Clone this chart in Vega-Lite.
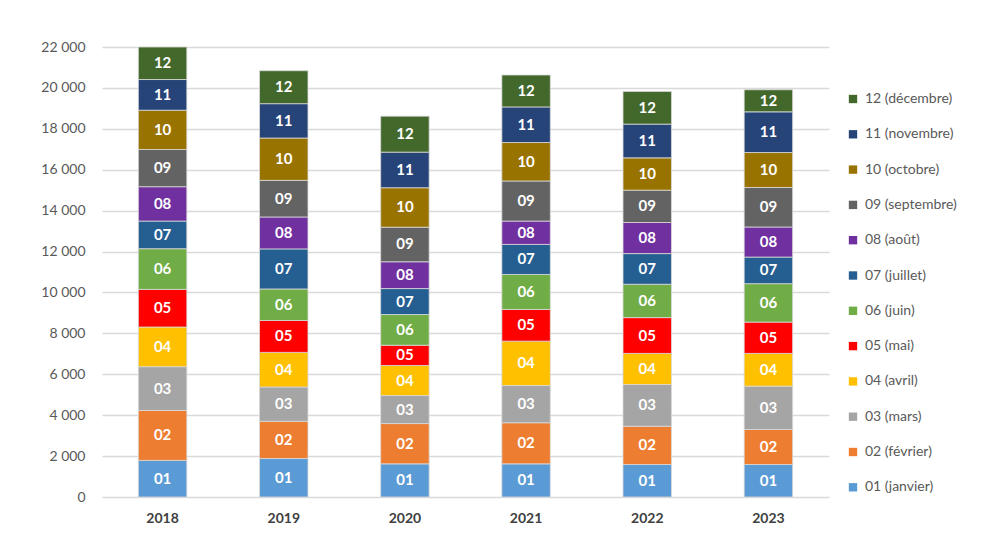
{
  "$schema": "https://vega.github.io/schema/vega-lite/v6.json",
  "autosize": "none",
  "width": 727,
  "height": 450,
  "padding": {"left": 102, "top": 47, "right": 161, "bottom": 43},
  "background": "#ffffff",
  "config": {
    "font": "Lato",
    "view": {"stroke": null}
  },
  "data": {
    "values": [
      {"year": "2018", "m": "01", "label": "01 (janvier)", "value": 1790},
      {"year": "2018", "m": "02", "label": "02 (février)", "value": 2440},
      {"year": "2018", "m": "03", "label": "03 (mars)", "value": 2140},
      {"year": "2018", "m": "04", "label": "04 (avril)", "value": 1940},
      {"year": "2018", "m": "05", "label": "05 (mai)", "value": 1840},
      {"year": "2018", "m": "06", "label": "06 (juin)", "value": 1990},
      {"year": "2018", "m": "07", "label": "07 (juillet)", "value": 1350},
      {"year": "2018", "m": "08", "label": "08 (août)", "value": 1680},
      {"year": "2018", "m": "09", "label": "09 (septembre)", "value": 1820},
      {"year": "2018", "m": "10", "label": "10 (octobre)", "value": 1920},
      {"year": "2018", "m": "11", "label": "11 (novembre)", "value": 1500},
      {"year": "2018", "m": "12", "label": "12 (décembre)", "value": 1590},
      {"year": "2019", "m": "01", "label": "01 (janvier)", "value": 1880},
      {"year": "2019", "m": "02", "label": "02 (février)", "value": 1820},
      {"year": "2019", "m": "03", "label": "03 (mars)", "value": 1680},
      {"year": "2019", "m": "04", "label": "04 (avril)", "value": 1690},
      {"year": "2019", "m": "05", "label": "05 (mai)", "value": 1560},
      {"year": "2019", "m": "06", "label": "06 (juin)", "value": 1540},
      {"year": "2019", "m": "07", "label": "07 (juillet)", "value": 1960},
      {"year": "2019", "m": "08", "label": "08 (août)", "value": 1560},
      {"year": "2019", "m": "09", "label": "09 (septembre)", "value": 1790},
      {"year": "2019", "m": "10", "label": "10 (octobre)", "value": 2070},
      {"year": "2019", "m": "11", "label": "11 (novembre)", "value": 1680},
      {"year": "2019", "m": "12", "label": "12 (décembre)", "value": 1610},
      {"year": "2020", "m": "01", "label": "01 (janvier)", "value": 1620},
      {"year": "2020", "m": "02", "label": "02 (février)", "value": 1970},
      {"year": "2020", "m": "03", "label": "03 (mars)", "value": 1370},
      {"year": "2020", "m": "04", "label": "04 (avril)", "value": 1470},
      {"year": "2020", "m": "05", "label": "05 (mai)", "value": 990},
      {"year": "2020", "m": "06", "label": "06 (juin)", "value": 1500},
      {"year": "2020", "m": "07", "label": "07 (juillet)", "value": 1270},
      {"year": "2020", "m": "08", "label": "08 (août)", "value": 1310},
      {"year": "2020", "m": "09", "label": "09 (septembre)", "value": 1690},
      {"year": "2020", "m": "10", "label": "10 (octobre)", "value": 1930},
      {"year": "2020", "m": "11", "label": "11 (novembre)", "value": 1740},
      {"year": "2020", "m": "12", "label": "12 (décembre)", "value": 1760},
      {"year": "2021", "m": "01", "label": "01 (janvier)", "value": 1620},
      {"year": "2021", "m": "02", "label": "02 (février)", "value": 2010},
      {"year": "2021", "m": "03", "label": "03 (mars)", "value": 1820},
      {"year": "2021", "m": "04", "label": "04 (avril)", "value": 2170},
      {"year": "2021", "m": "05", "label": "05 (mai)", "value": 1550},
      {"year": "2021", "m": "06", "label": "06 (juin)", "value": 1710},
      {"year": "2021", "m": "07", "label": "07 (juillet)", "value": 1470},
      {"year": "2021", "m": "08", "label": "08 (août)", "value": 1140},
      {"year": "2021", "m": "09", "label": "09 (septembre)", "value": 1960},
      {"year": "2021", "m": "10", "label": "10 (octobre)", "value": 1880},
      {"year": "2021", "m": "11", "label": "11 (novembre)", "value": 1740},
      {"year": "2021", "m": "12", "label": "12 (décembre)", "value": 1560},
      {"year": "2022", "m": "01", "label": "01 (janvier)", "value": 1590},
      {"year": "2022", "m": "02", "label": "02 (février)", "value": 1870},
      {"year": "2022", "m": "03", "label": "03 (mars)", "value": 2040},
      {"year": "2022", "m": "04", "label": "04 (avril)", "value": 1520},
      {"year": "2022", "m": "05", "label": "05 (mai)", "value": 1750},
      {"year": "2022", "m": "06", "label": "06 (juin)", "value": 1630},
      {"year": "2022", "m": "07", "label": "07 (juillet)", "value": 1500},
      {"year": "2022", "m": "08", "label": "08 (août)", "value": 1520},
      {"year": "2022", "m": "09", "label": "09 (septembre)", "value": 1580},
      {"year": "2022", "m": "10", "label": "10 (octobre)", "value": 1580},
      {"year": "2022", "m": "11", "label": "11 (novembre)", "value": 1650},
      {"year": "2022", "m": "12", "label": "12 (décembre)", "value": 1600},
      {"year": "2023", "m": "01", "label": "01 (janvier)", "value": 1590},
      {"year": "2023", "m": "02", "label": "02 (février)", "value": 1710},
      {"year": "2023", "m": "03", "label": "03 (mars)", "value": 2120},
      {"year": "2023", "m": "04", "label": "04 (avril)", "value": 1600},
      {"year": "2023", "m": "05", "label": "05 (mai)", "value": 1530},
      {"year": "2023", "m": "06", "label": "06 (juin)", "value": 1880},
      {"year": "2023", "m": "07", "label": "07 (juillet)", "value": 1300},
      {"year": "2023", "m": "08", "label": "08 (août)", "value": 1470},
      {"year": "2023", "m": "09", "label": "09 (septembre)", "value": 1930},
      {"year": "2023", "m": "10", "label": "10 (octobre)", "value": 1710},
      {"year": "2023", "m": "11", "label": "11 (novembre)", "value": 1990},
      {"year": "2023", "m": "12", "label": "12 (décembre)", "value": 1080}
    ]
  },
  "encoding": {
    "x": {
      "field": "year",
      "type": "nominal",
      "scale": {"paddingInner": 0.6, "paddingOuter": 0.3},
      "axis": {
        "title": null,
        "labelAngle": 0,
        "ticks": false,
        "domain": false,
        "labelFont": "Lato",
        "labelFontSize": 14,
        "labelFontWeight": "bold",
        "labelColor": "#404040",
        "labelPadding": 14
      }
    }
  },
  "layer": [
    {
      "mark": {"type": "bar", "stroke": "#d9d9d9", "strokeWidth": 0.8},
      "encoding": {
        "y": {
          "field": "value",
          "type": "quantitative",
          "stack": "zero",
          "scale": {"domain": [0, 22000], "nice": false},
          "axis": {
            "title": null,
            "values": [0, 2000, 4000, 6000, 8000, 10000, 12000, 14000, 16000, 18000, 20000, 22000],
            "labelExpr": "replace(format(datum.value, ',.0f'), ',', ' ')",
            "ticks": false,
            "domain": false,
            "gridColor": "#d9d9d9",
            "gridWidth": 1.3,
            "labelFont": "Lato",
            "labelFontSize": 14,
            "labelColor": "#595959",
            "labelPadding": 17
          }
        },
        "color": {
          "field": "label",
          "type": "nominal",
          "scale": {
            "domain": ["12 (décembre)", "11 (novembre)", "10 (octobre)", "09 (septembre)", "08 (août)", "07 (juillet)", "06 (juin)", "05 (mai)", "04 (avril)", "03 (mars)", "02 (février)", "01 (janvier)"],
            "range": ["#43682B", "#264478", "#997300", "#636363", "#7030A0", "#255E91", "#70AD47", "#FF0000", "#FFC000", "#A5A5A5", "#ED7D31", "#5B9BD5"]
          },
          "legend": {
            "title": null,
            "orient": "none",
            "legendX": 744,
            "legendY": 45,
            "symbolType": "square",
            "symbolSize": 70,
            "symbolStrokeWidth": 0,
            "labelFont": "Lato",
            "labelFontSize": 14,
            "labelColor": "#595959",
            "rowPadding": 21.3,
            "labelOffset": 5
          }
        },
        "order": {"field": "m", "sort": "ascending"}
      }
    },
    {
      "mark": {"type": "text", "color": "#ffffff", "fontWeight": "bold", "fontSize": 15, "font": "Lato", "baseline": "middle"},
      "encoding": {
        "y": {"field": "value", "type": "quantitative", "stack": "zero", "bandPosition": 0.5},
        "detail": {"field": "label"},
        "order": {"field": "m", "sort": "ascending"},
        "text": {"field": "m"}
      }
    }
  ]
}
